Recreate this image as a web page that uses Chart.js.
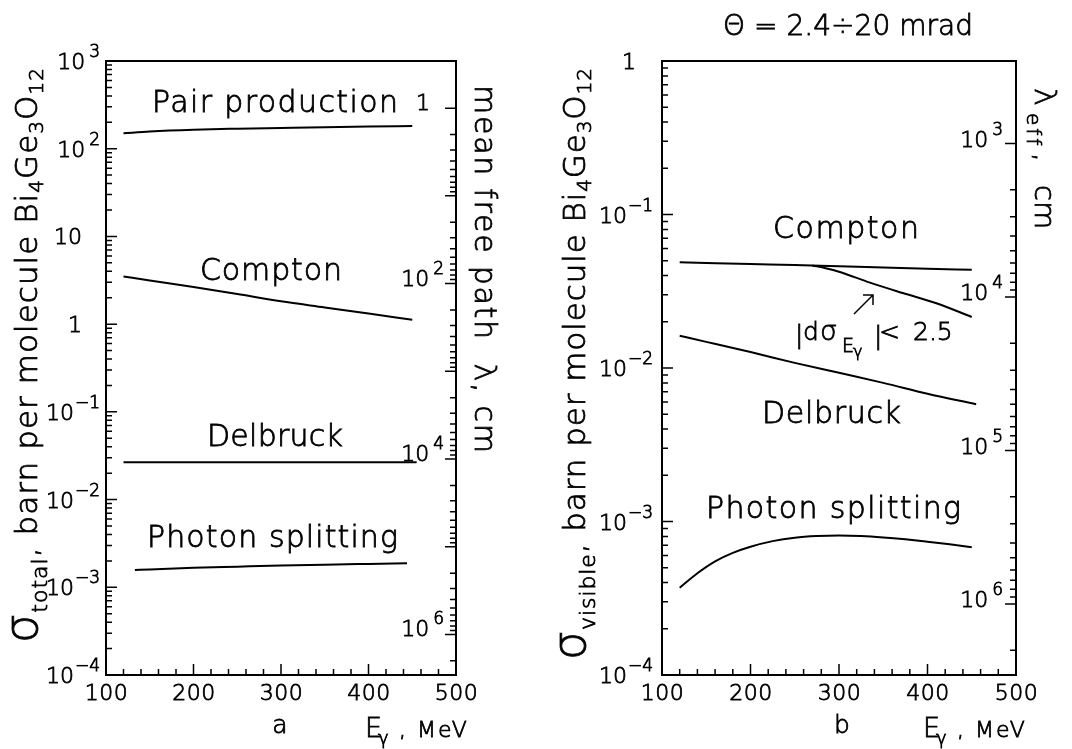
<!DOCTYPE html>
<html>
<head>
<meta charset="utf-8">
<title>Bi4Ge3O12 cross sections</title>
<script src="https://cdn.jsdelivr.net/npm/chart.js@4.4.1/dist/chart.umd.min.js"></script>
<style>
  html, body { margin: 0; padding: 0; background: #fff; }
  #wrap { position: relative; width: 1072px; height: 749px; overflow: hidden; }
  canvas { position: absolute; top: 0; }
</style>
</head>
<body>
<div id="wrap">
  <canvas id="panelA" width="536" height="749" style="left:0px"></canvas>
  <canvas id="panelB" width="536" height="749" style="left:536px"></canvas>
</div>
<script>
// ---- panel a : total cross sections (barn per molecule) ----
const ePairA      = [120, 150, 200, 250, 300, 350, 400, 450];
const pairA       = [150, 157, 164.5, 169, 172.5, 176, 179, 181.5];
const eComptonA   = [120, 150, 200, 250, 300, 350, 400, 450];
const comptonA    = [3.5, 3.15, 2.65, 2.2, 1.82, 1.55, 1.32, 1.12];
const eDelbruckA  = [120, 200, 300, 400, 455];
const delbruckA   = [0.0266, 0.0266, 0.0266, 0.0266, 0.0266];
const eSplitA     = [133, 150, 200, 250, 300, 350, 400, 444];
const splitA      = [1.57e-3, 1.60e-3, 1.67e-3, 1.72e-3, 1.77e-3, 1.81e-3, 1.845e-3, 1.875e-3];

// ---- panel b : visible cross sections, theta = 2.4-20 mrad ----
const eComptonB   = [120, 150, 200, 250, 300, 350, 400, 450];
const comptonB    = [0.0489, 0.0484, 0.0476, 0.0469, 0.0460, 0.0452, 0.0444, 0.0436];
const eCutB       = [270, 285, 300, 335, 372, 410, 450];
const cutB        = [0.0466, 0.0447, 0.0424, 0.0360, 0.0308, 0.0264, 0.0215];
const eDelbruckB  = [120, 150, 200, 250, 300, 350, 400, 455];
const delbruckB   = [0.0162, 0.0148, 0.0127, 0.0108, 0.0093, 0.0080, 0.0068, 0.0058];
const eSplitB     = [120, 140, 160, 180, 200, 225, 250, 275, 300, 325, 350, 375, 400, 425, 450];
const splitB      = [3.7e-4, 4.6e-4, 5.5e-4, 6.25e-4, 6.85e-4, 7.45e-4, 7.85e-4, 8.05e-4, 8.12e-4,
                     8.05e-4, 7.88e-4, 7.65e-4, 7.38e-4, 7.1e-4, 6.8e-4];

// ---- axes ----
const xTickLabels   = [100, 200, 300, 400, 500];
const yExponentsA   = [-4, -3, -2, -1, 0, 1, 2, 3];   // sigma labels, panel a
const yExponentsB   = [-4, -3, -2, -1, 0];            // sigma labels, panel b
const lamExponentsA = [0, 2, 4, 6];                   // mean free path labels, panel a
const lamExponentsB = [3, 4, 5, 6];                   // lambda_eff labels, panel b
const LAM_C = 290;   // lambda[cm] = LAM_C / sigma[barn] for BGO

const FAM = '"DejaVu Sans ExtraLight", "DejaVu Sans Light", "DejaVu Sans", sans-serif';
const WGT = '200';
const STROKE = 0.8;   // thickens the extra-light glyphs a bit
const MAJOR = 11, MINOR = 6;

function pts(xs, ys) { return xs.map((x, i) => ({ x: x, y: ys[i] })); }

function setFont(ctx, size) { ctx.font = WGT + ' ' + size + 'px ' + FAM; }

function txt(ctx, s, x, y) {
    ctx.fillText(s, x, y);
    ctx.lineWidth = STROKE;
    ctx.strokeText(s, x, y);
}

// draws a row of text runs (sub/superscripts via dy), optional rotation and fit length
function drawRuns(ctx, runs, x, y, opt) {
    opt = opt || {};
    ctx.save();
    ctx.translate(x, y);
    ctx.rotate(opt.rot || 0);
    ctx.textBaseline = 'alphabetic';
    ctx.textAlign = 'left';
    const widths = [];
    let w = 0, n = 0;
    runs.forEach(r => {
        setFont(ctx, r.size);
        ctx.letterSpacing = '0px';
        const rw = ctx.measureText(r.t).width;
        widths.push(rw);
        w += rw;
        n += [...r.t].length;
    });
    const ls = opt.fit ? (opt.fit - w) / Math.max(1, n - 1) : 0;
    const total = w + ls * (n - 1);
    let cx = opt.align === 'center' ? -total / 2 : 0;
    runs.forEach((r, i) => {
        const l = typeof r.ls === 'number' ? r.ls : ls;
        setFont(ctx, r.size);
        ctx.letterSpacing = l.toFixed(2) + 'px';
        const px = typeof r.at === 'number' ? r.at : cx;
        txt(ctx, r.t, px, r.dy || 0);
        cx = px + widths[i] + l * [...r.t].length;
    });
    ctx.restore();
}

function powParts(k) {
    if (k === 0) return ['1', ''];
    if (k === 1) return ['10', ''];
    return ['10', (k < 0 ? '\u2212' : '') + Math.abs(k)];
}

// "10" + superscript, right aligned
function drawPow(ctx, k, xPlain, xSup, yBase) {
    const p = powParts(k);
    ctx.save();
    ctx.letterSpacing = '0px';
    ctx.textBaseline = 'alphabetic';
    ctx.textAlign = 'right';
    if (!p[1]) {
        setFont(ctx, 22);
        txt(ctx, p[0], xPlain, yBase);
    } else {
        setFont(ctx, 17);
        const sw = ctx.measureText(p[1]).width;
        txt(ctx, p[1], xSup, yBase - 12);
        setFont(ctx, 22);
        txt(ctx, p[0], xSup - sw - (k > 0 ? 4 : 1), yBase);
    }
    ctx.restore();
}

function logTicks(lo, hi) {
    const out = [];
    for (let k = Math.floor(Math.log10(lo)) - 1; k <= Math.ceil(Math.log10(hi)); k++) {
        for (let m = 1; m <= 9; m++) {
            const v = m * Math.pow(10, k);
            if (v >= lo * 0.9999 && v <= hi * 1.0001) out.push({ v: v, major: m === 1 });
        }
    }
    return out;
}

function eAxisRuns() {
    return [
        { t: 'E', size: 27, at: 0 },
        { t: '\u03b3', size: 18, dy: 7, at: 13 },
        { t: ',', size: 22, at: 34 },
        { t: 'MeV', size: 22, at: 52, ls: 2 }
    ];
}

function sigmaTitle(sub) {
    return [
        { t: '\u03c3', size: 46 }, { t: sub, size: 22, dy: 10 },
        { t: ', barn per molecule Bi', size: 31 }, { t: '4', size: 20, dy: 6 },
        { t: 'Ge', size: 31 }, { t: '3', size: 20, dy: 6 },
        { t: 'O', size: 31 }, { t: '12', size: 20, dy: 6 }
    ];
}

// per-panel decoration, kept outside Chart.js options
const PANEL_CFG = {
    panelA: {
        yLabels: yExponentsA, lamLabels: lamExponentsA,
        yPlain: 24, ySup: 6, lamSup: 12, lamDy: 2,
        arrow: null,
        texts: [
            { runs: [{ t: 'Pair production', size: 30 }], x: 152, y: 112, fit: 246 },
            { runs: [{ t: 'Compton', size: 30 }], x: 200, y: 280, fit: 142 },
            { runs: [{ t: 'Delbruck', size: 30 }], x: 207, y: 446, fit: 136 },
            { runs: [{ t: 'Photon splitting', size: 30 }], x: 147, y: 547, fit: 251 },
            { runs: sigmaTitle('total'), x: 37, y: 643, rot: -Math.PI / 2, fit: 575 },
            { runs: [{ t: 'mean free path  \u03bb, cm', size: 30 }], x: 475, y: 85, rot: Math.PI / 2, fit: 368 },
            { runs: [{ t: 'a', size: 25 }], x: 280, y: 733, align: 'center' },
            { runs: eAxisRuns(), x: 365, y: 737 }
        ]
    },
    panelB: {
        yLabels: yExponentsB, lamLabels: lamExponentsB,
        yPlain: 26, ySup: 9, lamSup: 13, lamDy: 3,
        arrow: [318, 314, 337, 295],
        texts: [
            { runs: [{ t: '\u0398 = 2.4\u00f720 mrad', size: 28 }], x: 187, y: 35, fit: 250 },
            { runs: [{ t: 'Compton', size: 30 }], x: 237, y: 238, fit: 146 },
            { runs: [{ t: 'Delbruck', size: 30 }], x: 226, y: 423, fit: 139 },
            { runs: [{ t: 'Photon splitting', size: 30 }], x: 170, y: 518, fit: 255 },
            { runs: [
                { t: '|', size: 25, at: 0, dy: 3 }, { t: 'd', size: 25, at: 8 },
                { t: '\u03c3', size: 27, at: 25 }, { t: 'E', size: 19, at: 47, dy: 12 },
                { t: '\u03b3', size: 16, at: 58, dy: 17 }, { t: '|', size: 25, at: 79, dy: 4 },
                { t: '<', size: 25, at: 84 }, { t: '2.5', size: 25, at: 118 }
              ], x: 259, y: 340 },
            { runs: sigmaTitle('visible'), x: 49, y: 660, rot: -Math.PI / 2, fit: 592 },
            { runs: [
                { t: '\u03bb', size: 30, at: 0 }, { t: 'eff', size: 20, dy: 8, at: 25, ls: 3 },
                { t: ',', size: 28, at: 65 }, { t: 'cm', size: 29, at: 97 }
              ], x: 499, y: 88, rot: Math.PI / 2 },
            { runs: [{ t: 'b', size: 25 }], x: 306, y: 733, align: 'center' },
            { runs: eAxisRuns(), x: 387, y: 737 }
        ]
    }
};

// PAW style frame, inward ticks, labels and annotations
const pawAxes = {
    id: 'pawAxes',
    afterDraw(chart) {
        const o = PANEL_CFG[chart.canvas.id];
        const ctx = chart.ctx, a = chart.chartArea;
        const xs = chart.scales.x, ys = chart.scales.y, lam = chart.scales.lam;
        ctx.save();
        ctx.strokeStyle = '#000';
        ctx.fillStyle = '#000';
        ctx.lineWidth = 2;
        ctx.strokeRect(a.left, a.top, a.right - a.left, a.bottom - a.top);

        ctx.lineWidth = 1.5;
        ctx.beginPath();
        for (let e = xs.min; e <= xs.max; e += 20) {
            const px = xs.getPixelForValue(e);
            const len = e % 100 === 0 ? MAJOR : MINOR;
            ctx.moveTo(px, a.bottom);
            ctx.lineTo(px, a.bottom - len);
        }
        logTicks(ys.min, ys.max).forEach(t => {
            const py = ys.getPixelForValue(t.v);
            ctx.moveTo(a.left, py);
            ctx.lineTo(a.left + (t.major ? MAJOR : MINOR), py);
        });
        logTicks(Math.pow(10, o.lamLabels[0]), lam.max).forEach(t => {
            const py = lam.getPixelForValue(t.v);
            ctx.moveTo(a.right, py);
            ctx.lineTo(a.right - (t.major ? MAJOR : MINOR), py);
        });
        ctx.stroke();

        // x tick labels
        ctx.save();
        setFont(ctx, 22);
        ctx.textAlign = 'center';
        ctx.textBaseline = 'alphabetic';
        ctx.letterSpacing = '0.5px';
        xTickLabels.forEach(v => txt(ctx, String(v), xs.getPixelForValue(v) + 0.5, a.bottom + 25));
        ctx.restore();

        o.yLabels.forEach(k => {
            drawPow(ctx, k, a.left - o.yPlain, a.left - o.ySup, ys.getPixelForValue(Math.pow(10, k)) + 8);
        });
        o.lamLabels.forEach(k => {
            drawPow(ctx, k, a.right - 26, a.right - o.lamSup, lam.getPixelForValue(Math.pow(10, k)) + o.lamDy);
        });

        o.texts.forEach(t => drawRuns(ctx, t.runs, t.x, t.y, t));

        if (o.arrow) {
            const ar = o.arrow;
            ctx.lineWidth = 1.5;
            ctx.beginPath();
            ctx.moveTo(ar[0], ar[1]);
            ctx.lineTo(ar[2], ar[3]);
            ctx.moveTo(ar[2] - 10, ar[3]);
            ctx.lineTo(ar[2], ar[3]);
            ctx.lineTo(ar[2], ar[3] + 10);
            ctx.stroke();
        }
        ctx.restore();
    }
};

function line(data) {
    return { data: data, borderColor: '#000', borderWidth: 2, pointRadius: 0,
             fill: false, cubicInterpolationMode: 'monotone' };
}

function makePanel(canvasId, datasets, yMin, yMax, padding) {
    return new Chart(document.getElementById(canvasId), {
        type: 'line',
        data: { datasets: datasets },
        options: {
            responsive: false,
            animation: false,
            layout: { padding: padding },
            plugins: { legend: { display: false }, tooltip: { enabled: false } },
            scales: {
                x: { type: 'linear', min: 100, max: 500, display: false },
                y: { type: 'logarithmic', min: yMin, max: yMax, display: false },
                lam: { type: 'logarithmic', axis: 'y', position: 'right', reverse: true,
                       min: LAM_C / yMax, max: LAM_C / yMin, display: false }
            }
        },
        plugins: [pawAxes]
    });
}

makePanel('panelA', [
    line(pts(ePairA, pairA)),
    line(pts(eComptonA, comptonA)),
    line(pts(eDelbruckA, delbruckA)),
    line(pts(eSplitA, splitA))
], 1e-4, 1e3, { left: 106, right: 80, top: 61, bottom: 74 });

makePanel('panelB', [
    line(pts(eComptonB, comptonB)),
    line(pts(eCutB, cutB)),
    line(pts(eDelbruckB, delbruckB)),
    line(pts(eSplitB, splitB))
], 1e-4, 1, { left: 126, right: 56, top: 61, bottom: 74 });
</script>
</body>
</html>
